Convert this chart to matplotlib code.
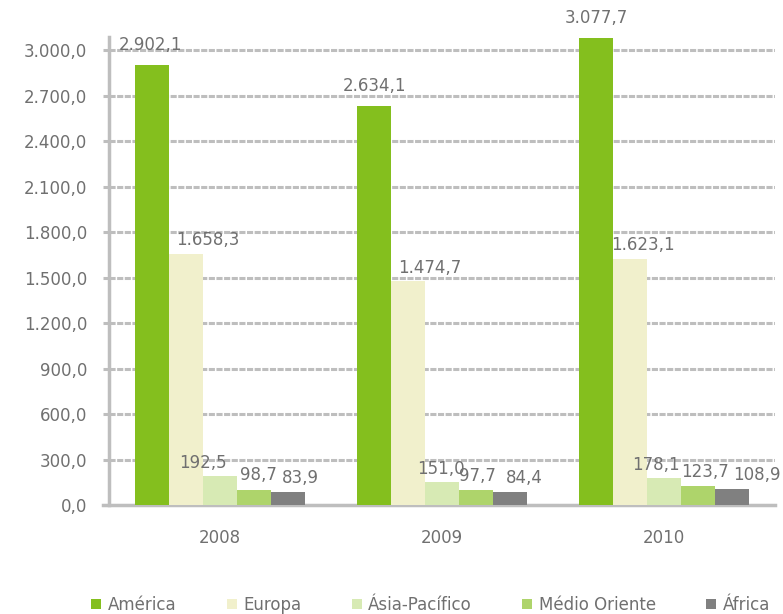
import matplotlib.pyplot as plt
from matplotlib.patches import Patch
import numpy as np

anos = ["2008", "2009", "2010"]
regioes = ["América", "Europa", "Ásia-Pacífico", "Médio Oriente", "África"]
america = [2902.1, 2634.1, 3077.7]
europa = [1658.3, 1474.7, 1623.1]
asia = [192.5, 151.0, 178.1]
medio_oriente = [98.7, 97.7, 123.7]
africa = [83.9, 84.4, 108.9]
yticks = [0, 300, 600, 900, 1200, 1500, 1800, 2100, 2400, 2700, 3000]

cores = ["#84BF1E", "#F1F0CC", "#D7EAB4", "#AED46B", "#808080"]
cinza = "#BEBEBE"
texto = "#707070"

# deslocamento dos rotulos (pontos), como o Excel os arruma
dx = [[-1, 0, 0], [16, 16, 9], [-12, -1, -6], [3, 1, 5], [9, 10, 18]]
dy = [8, 3.5, 3, 4, 3.5]


def fmt(v):
    s = f"{v:,.1f}"
    return s.replace(",", "X").replace(".", ",").replace("X", ".")


plt.rcParams['font.family'] = ['DejaVu Sans']

fig = plt.figure(figsize=(7.83, 6.14), dpi=100)
ax = fig.add_axes([0.139, 0.1775, 0.851, 0.763])

series = [america, europa, asia, medio_oriente, africa]
x = np.arange(len(anos))
w = 0.153
for i, (vals, nome) in enumerate(zip(series, regioes)):
    pos = x + (i - 2) * w
    ax.bar(pos, vals, width=w, color=cores[i], zorder=3, label=nome)
    for j, (p, v) in enumerate(zip(pos, vals)):
        ax.annotate(fmt(v), (p, v), xytext=(dx[i][j], dy[i]), textcoords="offset points",
                    ha="center", va="bottom", fontsize=12, color=texto, zorder=4)

ax.set_xlim(-0.5, 2.5)
ax.set_ylim(0, 3090)
ax.set_yticks(yticks)
ax.set_yticklabels([fmt(t) for t in yticks], fontsize=12, color=texto)
ax.set_xticks(x)
ax.set_xticklabels(anos, fontsize=12, color=texto)
ax.tick_params(axis="x", length=0, pad=17)
ax.tick_params(axis="y", length=4.5, width=2.2, color=cinza, pad=11)

ax.yaxis.grid(True, color=cinza, linewidth=2.2, linestyle=(0, (2, 0.5)), zorder=1)
for s in ["top", "right"]:
    ax.spines[s].set_visible(False)
for s in ["left", "bottom"]:
    ax.spines[s].set_color(cinza)
    ax.spines[s].set_linewidth(2.5)
ax.spines["bottom"].set_bounds(-0.525, 2.5)

handles = [Patch(facecolor=c, edgecolor="none") for c in cores]
fig.legend(handles, regioes, loc="lower center", bbox_to_anchor=(0.55, -0.024), ncol=5,
           frameon=False, fontsize=12, labelcolor=texto, handlelength=0.6,
           handleheight=0.6, handletextpad=0.4, columnspacing=3.0)

fig.savefig("out.png", dpi=100)
